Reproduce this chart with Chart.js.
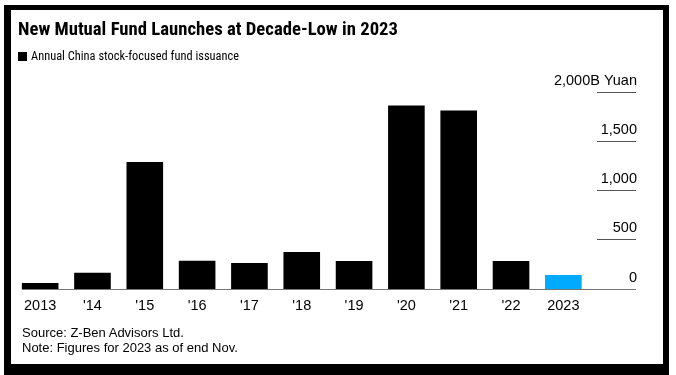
<!DOCTYPE html>
<html>
<head>
<meta charset="utf-8">
<script src="https://cdn.jsdelivr.net/npm/chart.js@4.4.1/dist/chart.umd.min.js"></script>
<style>
    body { margin: 0; background: #fff; width: 676px; height: 375px; overflow: hidden; position: relative; font-family: "Liberation Sans", Arial, sans-serif; }
    .frame { position: absolute; left: 4px; top: 5px; width: 665px; height: 370px; box-sizing: border-box; border-style: solid; border-color: #000; border-width: 5px 6px 11px 7px; pointer-events: none; }
    .title { position: absolute; left: 18px; top: 20px; font: bold 18.7px/18.7px "Roboto Condensed", "Liberation Sans Narrow", sans-serif; color: #000; white-space: nowrap; }
    .subtitle { position: absolute; left: 18px; top: 50px; font: 12.4px/12.4px "Liberation Sans Narrow", "Roboto Condensed", sans-serif; color: #000; white-space: nowrap; }
    .subtitle .key { display: inline-block; width: 9px; height: 9px; background: #000; margin-right: 4px; vertical-align: -1px; }
    .note { position: absolute; left: 22px; font: 13px/13px "Liberation Sans", Arial, sans-serif; color: #000; white-space: nowrap; }
    #chart { position: absolute; left: 0; top: 0; }
</style>
</head>
<body>
<canvas id="chart" width="676" height="375"></canvas>
<div class="title">New Mutual Fund Launches at Decade-Low in 2023</div>
<div class="subtitle"><span class="key"></span>Annual China stock-focused fund issuance</div>
<div class="note" style="top:326px">Source: Z-Ben Advisors Ltd.</div>
<div class="note" style="top:341px">Note: Figures for 2023 as of end Nov.</div>
<div class="frame"></div>
<script>
// Annual issuance, billion yuan (2023 as of end Nov.)
const years = ["2013", "'14", "'15", "'16", "'17", "'18", "'19", "'20", "'21", "'22", "2023"];
const issuance = [66, 171, 1297, 292, 270, 381, 290, 1873, 1822, 290, 147];
const yTicks = [0, 500, 1000, 1500, 2000];
const yTickLabels = ["0", "500", "1,000", "1,500", "2,000B Yuan"];

const barColors = years.map((y, i) => i === years.length - 1 ? "#00aaff" : "#000000");

// right-hand value labels sit above short rules, Bloomberg style
const rightAxis = {
    id: "rightAxis",
    afterDraw(chart) {
        const ctx = chart.ctx;
        const yScale = chart.scales.y;
        const area = chart.chartArea;
        const lineEnd = 636;
        ctx.save();
        ctx.font = '14.5px "Liberation Sans", Arial, sans-serif';
        ctx.textAlign = "right";
        ctx.textBaseline = "alphabetic";
        yTicks.forEach((v, i) => {
            const y = Math.round(yScale.getPixelForValue(v)) - 0.5;
            ctx.strokeStyle = v === 0 ? "#777" : "#555";
            ctx.lineWidth = 1;
            ctx.beginPath();
            ctx.moveTo(v === 0 ? area.left + 8 : 597, y);
            ctx.lineTo(lineEnd, y);
            ctx.stroke();
            ctx.fillStyle = "#000";
            ctx.fillText(yTickLabels[i], lineEnd + 1, y - 8);
        });
        ctx.restore();
    }
};

new Chart(document.getElementById("chart"), {
    type: "bar",
    data: {
        labels: years,
        datasets: [{
            data: issuance,
            backgroundColor: barColors,
            borderWidth: 0,
            barPercentage: 0.7,
            categoryPercentage: 1.0,
        }]
    },
    options: {
        responsive: false,
        animation: false,
        events: [],
        layout: { padding: { left: 14, right: 86.5, top: 93, bottom: 0 } },
        plugins: {
            legend: { display: false },
            title: { display: false },
            tooltip: { enabled: false },
        },
        scales: {
            x: {
                grid: { display: false, drawTicks: false },
                border: { display: false },
                ticks: {
                    color: "#000",
                    padding: 8,
                    maxRotation: 0,
                    autoSkip: false,
                    font: { family: '"Liberation Sans", Arial, sans-serif', size: 14.5 },
                },
                afterFit(scale) { scale.height = 85.5; },
            },
            y: {
                display: false,
                min: 0,
                max: 2000,
            }
        }
    },
    plugins: [rightAxis]
});
</script>
</body>
</html>
